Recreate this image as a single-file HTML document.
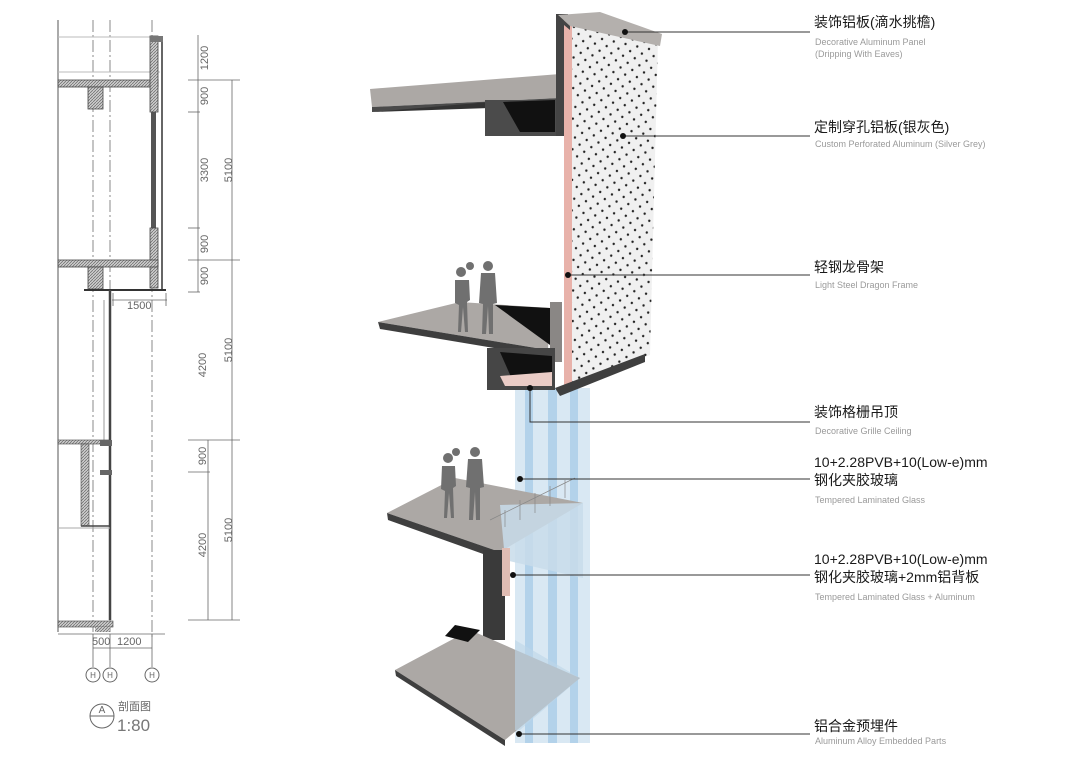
<!DOCTYPE html>
<html><head><meta charset="utf-8"><style>
body{margin:0;width:1080px;height:764px;background:#fff;position:relative;overflow:hidden;font-family:"Liberation Sans","Noto Sans CJK SC",sans-serif}
.t{position:absolute;left:814px;font-size:14px;color:#1a1a1a;line-height:17px;white-space:nowrap}
.s{position:absolute;left:815px;font-size:9px;color:#9a9a9a;line-height:12px;white-space:nowrap}
</style></head><body>
<svg width="1080" height="764" style="position:absolute;left:0;top:0" font-family="Liberation Sans, Noto Sans CJK SC, sans-serif">
<defs>
<pattern id="h" width="3" height="3" patternUnits="userSpaceOnUse"><rect width="3" height="3" fill="#ccc"/><path d="M0 3L3 0" stroke="#666" stroke-width="0.7"/></pattern>
<pattern id="dots" width="12" height="12" patternUnits="userSpaceOnUse" patternTransform="rotate(12)"><rect width="12" height="12" fill="#f0f0f0"/><circle cx="3" cy="3" r="1.2" fill="#222"/><circle cx="9" cy="9" r="1.2" fill="#222"/></pattern>
</defs>
<!-- LEFT SECTION DRAWING -->
<g stroke="#555" stroke-width="1" fill="none">
<line x1="58" y1="20" x2="58" y2="632"/>
<line x1="93" y1="20" x2="93" y2="632" stroke-dasharray="12,3,2,3" stroke="#888"/>
<line x1="110" y1="20" x2="110" y2="632" stroke-dasharray="12,3,2,3" stroke="#888"/>
<line x1="152" y1="20" x2="152" y2="640" stroke-dasharray="12,3,2,3" stroke="#888"/>
<line x1="58" y1="37" x2="160" y2="37" stroke="#bbb"/>
<line x1="58" y1="72" x2="160" y2="72" stroke="#bbb"/>
</g>
<rect x="58" y="80" width="100" height="7" fill="url(#h)" stroke="#444" stroke-width="0.8"/>
<rect x="88" y="87" width="15" height="22" fill="url(#h)" stroke="#444" stroke-width="0.8"/>
<rect x="150" y="36" width="8" height="76" fill="url(#h)" stroke="#444" stroke-width="0.8"/>
<rect x="151" y="112" width="5" height="116" fill="#555"/>
<rect x="150" y="228" width="8" height="60" fill="url(#h)" stroke="#444" stroke-width="0.8"/>
<line x1="162" y1="36" x2="162" y2="290" stroke="#333" stroke-width="1.5"/>
<rect x="150" y="36" width="13" height="6" fill="#777"/>
<rect x="58" y="260" width="100" height="7" fill="url(#h)" stroke="#444" stroke-width="0.8"/>
<rect x="88" y="267" width="15" height="22" fill="url(#h)" stroke="#444" stroke-width="0.8"/>
<line x1="84" y1="290" x2="166" y2="290" stroke="#333" stroke-width="2"/>
<line x1="110" y1="290" x2="110" y2="620" stroke="#444" stroke-width="2.5"/>
<line x1="104" y1="300" x2="104" y2="440" stroke="#999"/>
<rect x="58" y="440" width="52" height="4" fill="url(#h)" stroke="#444" stroke-width="0.6"/>
<rect x="81" y="444" width="8" height="82" fill="url(#h)" stroke="#444" stroke-width="0.6"/>
<line x1="81" y1="526" x2="110" y2="526" stroke="#444" stroke-width="1.5"/>
<rect x="100" y="440" width="12" height="6" fill="#666"/>
<rect x="100" y="470" width="12" height="5" fill="#666"/>
<line x1="58" y1="528" x2="110" y2="528" stroke="#aaa"/>
<rect x="58" y="621" width="55" height="6" fill="url(#h)" stroke="#444" stroke-width="0.6"/>
<rect x="95" y="627" width="15" height="5" fill="url(#h)"/>
<g stroke="#666" stroke-width="0.8">
<line x1="198" y1="35" x2="198" y2="292"/><line x1="232" y1="80" x2="232" y2="620"/>
<line x1="208" y1="440" x2="208" y2="620"/>
<line x1="188" y1="80" x2="240" y2="80"/><line x1="188" y1="260" x2="240" y2="260"/><line x1="188" y1="440" x2="240" y2="440"/><line x1="188" y1="620" x2="240" y2="620"/>
<line x1="188" y1="112" x2="200" y2="112"/><line x1="188" y1="228" x2="200" y2="228"/><line x1="188" y1="292" x2="200" y2="292"/><line x1="188" y1="472" x2="210" y2="472"/>
<line x1="112" y1="300" x2="167" y2="300"/><line x1="113" y1="293" x2="113" y2="306"/><line x1="166" y1="293" x2="166" y2="306"/>
<line x1="58" y1="634" x2="165" y2="634"/><line x1="93" y1="648" x2="152" y2="648"/>
<line x1="93" y1="634" x2="93" y2="667"/><line x1="110" y1="634" x2="110" y2="667"/><line x1="152" y1="634" x2="152" y2="667"/>
</g>
<g font-size="11" fill="#666">
<text transform="translate(208,58) rotate(-90)" text-anchor="middle">1200</text>
<text transform="translate(208,96) rotate(-90)" text-anchor="middle">900</text>
<text transform="translate(208,170) rotate(-90)" text-anchor="middle">3300</text>
<text transform="translate(208,244) rotate(-90)" text-anchor="middle">900</text>
<text transform="translate(208,276) rotate(-90)" text-anchor="middle">900</text>
<text transform="translate(232,170) rotate(-90)" text-anchor="middle">5100</text>
<text transform="translate(232,350) rotate(-90)" text-anchor="middle">5100</text>
<text transform="translate(232,530) rotate(-90)" text-anchor="middle">5100</text>
<text transform="translate(206,365) rotate(-90)" text-anchor="middle">4200</text>
<text transform="translate(206,456) rotate(-90)" text-anchor="middle">900</text>
<text transform="translate(206,545) rotate(-90)" text-anchor="middle">4200</text>
<text x="127" y="309">1500</text>
<text x="92" y="645">500</text><text x="117" y="645">1200</text>
</g>
<g fill="none" stroke="#666"><circle cx="93" cy="675" r="7"/><circle cx="110" cy="675" r="7"/><circle cx="152" cy="675" r="7"/><circle cx="102" cy="716" r="12"/><line x1="90" y1="716" x2="114" y2="716"/></g>
<g font-size="8" fill="#666" text-anchor="middle"><text x="93" y="678">H</text><text x="110" y="678">H</text><text x="152" y="678">H</text><text x="102" y="713" font-size="10">A</text></g>
<text x="118" y="710" font-size="11" fill="#666">剖面图</text>
<text x="117" y="731" font-size="17" fill="#777">1:80</text>

<!-- GLASS COLUMN -->
<rect x="515" y="388" width="75" height="355" fill="#cfe2f0" opacity="0.8"/>
<rect x="525" y="388" width="8" height="355" fill="#b3d2ea"/>
<rect x="548" y="388" width="9" height="355" fill="#b3d2ea"/>
<rect x="570" y="388" width="8" height="355" fill="#b3d2ea"/>

<!-- UPPER SLAB -->
<polygon points="370,89 560,74 560,98 372,107" fill="#aca8a5"/>
<polygon points="372,107 560,98 560,103 372,112" fill="#4a4a4a"/>
<polygon points="372,112 490,102 490,108" fill="#333"/>
<rect x="485" y="100" width="72" height="36" fill="#4b4b4b"/>
<polygon points="503,102 555,100 555,132 520,132" fill="#111"/>
<rect x="556" y="14" width="12" height="122" fill="#444"/>
<!-- Panel -->
<polygon points="570,22 658,40 650,355 570,385" fill="url(#dots)"/>
<polygon points="564,20 572,22 572,386 564,388" fill="#e8b2aa"/>
<polygon points="558,15 600,12 662,34 660,46 570,26" fill="#b4b0ad"/>
<polygon points="558,15 570,26 570,30 558,20" fill="#444"/>
<polygon points="555,388 645,354 645,362 560,396" fill="#3f3f3f"/>
<!-- LOWER (top) SLAB -->
<polygon points="378,322 460,302 550,308 548,350" fill="#aca8a5"/>
<polygon points="495,305 550,308 550,345" fill="#111"/>
<polygon points="378,322 548,350 548,357 380,329" fill="#3e3e3e"/>
<rect x="550" y="302" width="12" height="60" fill="#8a8785"/>
<rect x="487" y="348" width="68" height="42" fill="#464646"/>
<polygon points="500,352 552,356 552,386 515,386" fill="#111"/>
<polygon points="500,376 552,372 552,386 505,386" fill="#eaccc6"/>
<!-- people upper -->
<g fill="#707070">
<circle cx="488" cy="266" r="5"/><path d="M481 273h14l2 30-4 1v30h-4l-1-28-2 28h-4l1-30-4-1z"/>
<circle cx="461" cy="272" r="5"/><circle cx="470" cy="266" r="4"/><path d="M455 280h14l1 20-3 2 1 30h-3l-2-25-2 25h-3l1-27-4-2z"/>
</g>
<!-- MIDDLE SLAB -->
<polygon points="387,513 455,478 583,503 500,552" fill="#aca8a5"/>
<polygon points="387,513 500,552 500,560 388,520" fill="#3f3f3f"/>
<polygon points="500,505 583,503 583,578 505,560" fill="#c8dcea" opacity="0.85"/>
<rect x="483" y="550" width="22" height="90" fill="#3a3a3a"/>
<rect x="502" y="548" width="8" height="48" fill="#e0bcb3"/>
<g stroke="#888" stroke-width="0.7"><line x1="490" y1="520" x2="575" y2="478"/><line x1="505" y1="527" x2="505" y2="510"/><line x1="520" y1="520" x2="520" y2="500"/><line x1="535" y1="513" x2="535" y2="493"/><line x1="550" y1="506" x2="550" y2="486"/><line x1="565" y1="498" x2="565" y2="480"/></g>
<g fill="#707070">
<circle cx="475" cy="452" r="5"/><path d="M468 459h14l2 28-4 1v32h-4l-1-28-2 28h-4l1-32-4-1z"/>
<circle cx="448" cy="458" r="5"/><circle cx="456" cy="452" r="4"/><path d="M442 466h13l1 20-3 2 1 30h-3l-2-25-2 25h-3l1-27-4-2z"/>
</g>
<!-- BOTTOM SLAB -->
<polygon points="395,670 470,630 580,678 505,740" fill="#aca8a5"/>
<polygon points="395,670 505,740 505,746 396,676" fill="#3f3f3f"/>
<polygon points="455,625 480,630 468,642 445,636" fill="#111"/>
<polygon points="515,640 580,678 520,730 515,730" fill="#bcd5e8" opacity="0.6"/>

<!-- LEADERS -->
<g stroke="#333" stroke-width="1" fill="none">
<line x1="625" y1="32" x2="810" y2="32"/>
<line x1="623" y1="136" x2="810" y2="136"/>
<line x1="568" y1="275" x2="810" y2="275"/>
<polyline points="530,388 530,422 810,422"/>
<line x1="520" y1="479" x2="810" y2="479"/>
<line x1="513" y1="575" x2="810" y2="575"/>
<line x1="519" y1="734" x2="810" y2="734"/>
</g>
<g fill="#111"><circle cx="625" cy="32" r="3"/><circle cx="623" cy="136" r="3"/><circle cx="568" cy="275" r="3"/><circle cx="530" cy="388" r="3"/><circle cx="520" cy="479" r="3"/><circle cx="513" cy="575" r="3"/><circle cx="519" cy="734" r="3"/></g>
</svg>
<div class="t" style="top:14px">装饰铝板(滴水挑檐)</div>
<div class="s" style="top:36px">Decorative Aluminum Panel</div>
<div class="s" style="top:48px">(Dripping With Eaves)</div>
<div class="t" style="top:119px">定制穿孔铝板(银灰色)</div>
<div class="s" style="top:138px">Custom Perforated Aluminum (Silver Grey)</div>
<div class="t" style="top:259px">轻钢龙骨架</div>
<div class="s" style="top:279px">Light Steel Dragon Frame</div>
<div class="t" style="top:404px">装饰格栅吊顶</div>
<div class="s" style="top:425px">Decorative Grille Ceiling</div>
<div class="t" style="top:454px">10+2.28PVB+10(Low-e)mm</div>
<div class="t" style="top:472px">钢化夹胶玻璃</div>
<div class="s" style="top:494px">Tempered Laminated Glass</div>
<div class="t" style="top:551px">10+2.28PVB+10(Low-e)mm</div>
<div class="t" style="top:569px">钢化夹胶玻璃+2mm铝背板</div>
<div class="s" style="top:591px">Tempered Laminated Glass + Aluminum</div>
<div class="t" style="top:718px">铝合金预埋件</div>
<div class="s" style="top:735px">Aluminum Alloy Embedded Parts</div>
</body></html>
